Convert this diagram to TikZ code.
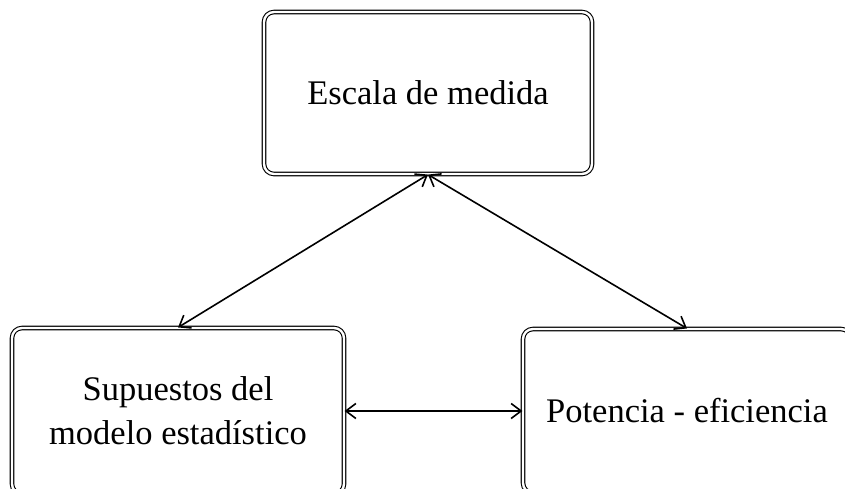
\documentclass[tikz,border=0pt]{standalone}
\usepackage{fontspec}
\setmainfont{Liberation Serif}
\usetikzlibrary{arrows.meta}
\tikzset{
  box/.style={draw, double, double distance=2.4pt, line width=1.1pt, rounded corners=10pt,
    inner sep=0pt, align=center, font=\fontsize{34.5}{44}\selectfont},
  conn/.style={line width=1.6pt, {Straight Barb[length=10pt,width=15pt]}-{Straight Barb[length=10pt,width=15pt]}}
}
\begin{document}
\begin{tikzpicture}[x=1pt,y=-1pt]
\useasboundingbox (0,0) rectangle (845,488);
\clip (0,0) rectangle (845,488);
\node[box, minimum width=328pt, minimum height=162pt] (top) at (428,93) {Escala de medida};
\node[box, minimum width=332pt, minimum height=166pt] (left) at (178,411) {Supuestos del\\modelo estadístico};
\node[box, minimum width=328pt, minimum height=164pt] (right) at (687,411) {Potencia - eficiencia};
\draw[conn] (top.south) -- (left.north);
\draw[conn] (top.south) -- (right.north);
\draw[conn] (left.east) -- (right.west);
\end{tikzpicture}
\end{document}
